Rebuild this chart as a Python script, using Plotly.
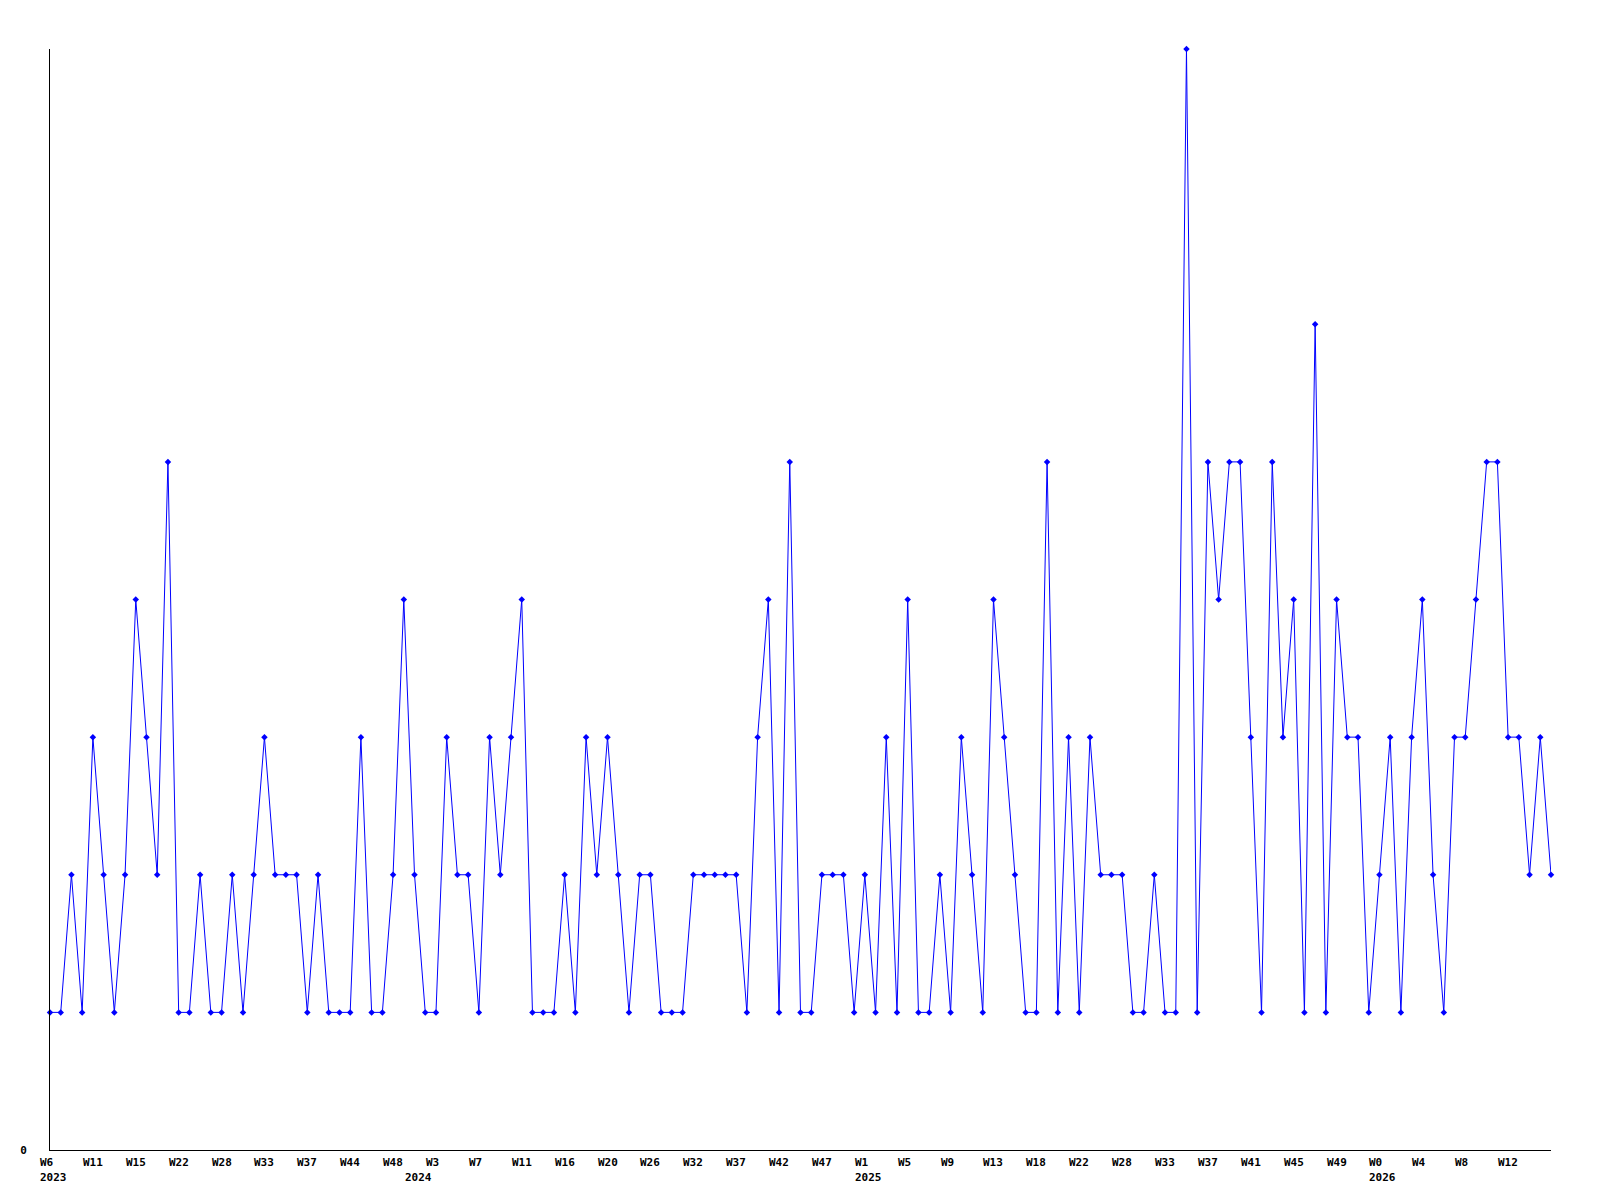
import plotly.graph_objects as go

values = [1, 1, 2, 1, 3, 2, 1, 2, 4, 3, 2, 5, 1, 1, 2, 1, 1, 2, 1, 2,
          3, 2, 2, 2, 1, 2, 1, 1, 1, 3, 1, 1, 2, 4, 2, 1, 1, 3, 2, 2,
          1, 3, 2, 3, 4, 1, 1, 1, 2, 1, 3, 2, 3, 2, 1, 2, 2, 1, 1, 1,
          2, 2, 2, 2, 2, 1, 3, 4, 1, 5, 1, 1, 2, 2, 2, 1, 2, 1, 3, 1,
          4, 1, 1, 2, 1, 3, 2, 1, 4, 3, 2, 1, 1, 5, 1, 3, 1, 3, 2, 2,
          2, 1, 1, 2, 1, 1, 8, 1, 5, 4, 5, 5, 3, 1, 5, 3, 4, 1, 6, 1,
          4, 3, 3, 1, 2, 3, 1, 3, 4, 2, 1, 3, 3, 4, 5, 5, 3, 3, 2, 3, 2]

tick_weeks = ["W6", "W11", "W15", "W22", "W28", "W33", "W37", "W44", "W48",
              "W3", "W7", "W11", "W16", "W20", "W26", "W32", "W37", "W42", "W47",
              "W1", "W5", "W9", "W13", "W18", "W22", "W28", "W33", "W37", "W41",
              "W45", "W49", "W0", "W4", "W8", "W12"]
tick_step = 4
year_labels = ["2023", "2024", "2025", "2026"]
year_index = [0, 34, 76, 124]

x = list(range(len(values)))
tickvals = [i * tick_step for i in range(len(tick_weeks))]

fig = go.Figure()
fig.add_trace(go.Scatter(
    x=x, y=values, mode="lines+markers",
    line=dict(color="#0000FF", width=1),
    marker=dict(symbol="diamond", size=5, color="#0000FF"),
    cliponaxis=False, showlegend=False,
))

fnt = dict(family="DejaVu Sans Mono", size=11, color="#000000", weight="bold")

annotations = []
for tv, lab in zip(tickvals, tick_weeks):
    annotations.append(dict(x=tv, xref="x", y=0, yref="paper", text=lab,
                            showarrow=False, xanchor="left", yanchor="top",
                            xshift=-12, yshift=-4, font=fnt))
for yi, lab in zip(year_index, year_labels):
    annotations.append(dict(x=yi, xref="x", y=0, yref="paper", text=lab,
                            showarrow=False, xanchor="left", yanchor="top",
                            xshift=-12, yshift=-19, font=fnt))

fig.update_layout(
    width=1600, height=1200,
    margin=dict(l=42, r=57, t=41, b=58),
    paper_bgcolor="white", plot_bgcolor="white",
    xaxis=dict(range=[0, len(values) - 1], tickvals=tickvals,
               showticklabels=False,
               showgrid=False, zeroline=False, showline=True, linecolor="black",
               linewidth=1, ticks=""),
    yaxis=dict(range=[0, 8], tickvals=[0], ticktext=["0"], showgrid=False,
               zeroline=False, showline=True, linecolor="black", linewidth=1,
               ticks="", tickfont=fnt, ticklabelstandoff=20),
    annotations=annotations,
)
fig.write_html("out.html")
